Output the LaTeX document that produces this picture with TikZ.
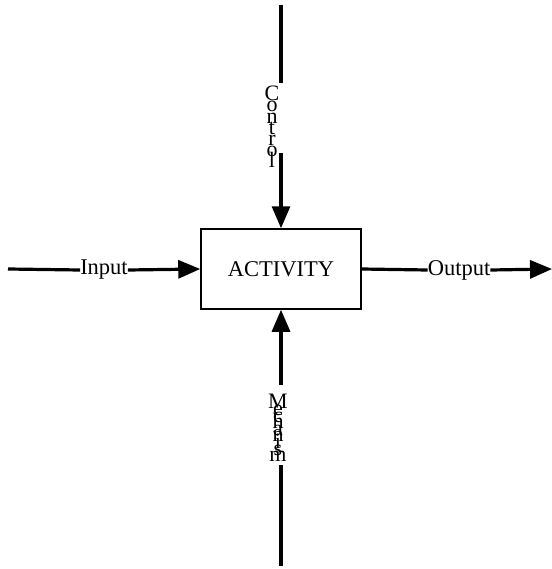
\documentclass[tikz,border=0pt]{standalone}
\usepackage{fontspec}
\setmainfont{Liberation Serif}
\usetikzlibrary{arrows.meta}
\newcommand\mytightlines{\lineskiplimit=-100bp\relax\lineskip=0bp\relax}
\begin{document}
\begin{tikzpicture}[x=1bp,y=-1bp,
  conn/.style={line width=3.2bp},
  arr/.style={conn,-{Triangle[length=22bp,width=18bp]}},
  lbl/.style={inner sep=0pt,font=\fontsize{22.5bp}{22bp}\selectfont},
  vlbl/.style={inner sep=0pt,align=center},
  actbox/.style={draw,line width=1.5bp,minimum width=160bp,minimum height=80bp,inner sep=0pt,font=\fontsize{22.5bp}{22bp}\selectfont}]
\useasboundingbox (0,0) rectangle (552,569);
\node[actbox] (box) at (281,269) {ACTIVITY};
% control
\coordinate (ctop) at (281,5);
\coordinate (cend) at (281,83);
\coordinate (cstart) at (281,153);
\node[vlbl,font={\fontsize{22bp}{11.2bp}\selectfont\mytightlines}] (control) at (272,127) {C\\o\\n\\t\\r\\o\\l};
\draw[conn] (ctop) -- (cend);
\draw[arr] (cstart) -- (box.north);
% mechanism
\coordinate (mbot) at (281,566);
\coordinate (mstart) at (281,465);
\coordinate (mend) at (281,385);
\node[vlbl,font={\fontsize{22bp}{6.6bp}\selectfont\mytightlines}] (mech) at (278,428) {M\\e\\c\\h\\a\\n\\i\\s\\m};
\draw[conn] (mbot) -- (mstart);
\draw[arr] (mend) -- (box.south);
% input
\coordinate (inL) at (8,269);
\node[lbl] (input) at (104,270) {Input};
\draw[conn] (inL) -- (input.west);
\draw[arr] (input.east) -- (box.west);
% output
\node[lbl] (output) at (459,270) {Output};
\coordinate (outR) at (552,269);
\draw[conn] (box.east) -- (output.west);
\draw[arr] (output.east) -- (outR);
\end{tikzpicture}
\end{document}
